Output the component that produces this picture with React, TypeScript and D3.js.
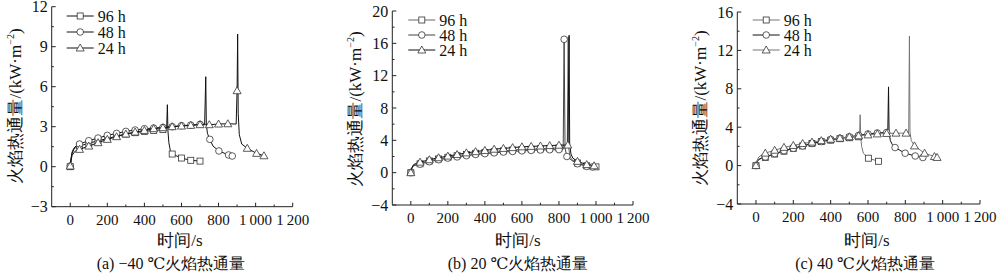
import React from "react";
import * as d3 from "d3";

type P = [number, number, number?];

// ---- Data (time s, heat flux kW/m², marker flag) ----
const seriesNames = ["96 h", "48 h", "24 h"];

const a96: P[] = [[0,0,1],[5,0.6],[10,1.0],[20,1.3],[30,1.45],[50,1.55,1],[100,1.75,1],[150,1.95,1],[200,2.1,1],[250,2.3,1],[300,2.45,1],[350,2.55,1],[400,2.65,1],[450,2.72,1],[500,2.78,1],[520,2.85],[524,4.65],[527,2.7],[532,1.8],[540,1.2],[550,0.95,1],[600,0.65,1],[650,0.48,1],[700,0.42,1]];
const a48: P[] = [[0,0.05,1],[5,0.7],[10,1.1],[20,1.4],[35,1.6],[50,1.7,1],[100,1.95,1],[150,2.15,1],[200,2.35,1],[250,2.5,1],[300,2.65,1],[350,2.75,1],[400,2.85,1],[450,2.9,1],[500,2.95,1],[550,3.0,1],[600,3.08,1],[650,3.12,1],[700,3.18,1],[725,3.2],[731,6.75],[734,3.2],[740,2.5],[753,2.05,1],[770,1.55],[802,1.18,1],[854,0.88,1],[874,0.8,1]];
const a24: P[] = [[0,0.05,1],[5,0.5],[10,0.85],[25,1.15],[50,1.3,1],[100,1.55,1],[150,1.8,1],[200,2.05,1],[250,2.25,1],[300,2.45,1],[350,2.6,1],[400,2.72,1],[450,2.85,1],[500,2.92,1],[550,3.0,1],[600,3.05,1],[650,3.1,1],[700,3.15,1],[750,3.15,1],[800,3.2,1],[850,3.22,1],[895,3.2],[900,5.7,1],[903,9.95],[906,4.0],[912,2.4],[925,1.7],[955,1.38,1],[1005,1.0,1],[1045,0.82,1]];

const b96: P[] = [[0,0,1],[5,0.5],[15,0.9],[30,1.0],[50,1.1,1],[100,1.45,1],[150,1.7,1],[200,1.9,1],[250,2.1,1],[300,2.25,1],[350,2.4,1],[400,2.5,1],[450,2.6,1],[500,2.7,1],[550,2.8,1],[600,2.85,1],[650,2.9,1],[700,2.95,1],[750,3.0,1],[800,3.05,1],[845,3.1],[850,16.8],[853,3.0],[860,2.0],[870,1.6],[900,1.2,1],[950,0.85,1],[1000,0.72,1]];
const b48: P[] = [[0,0,1],[5,0.5],[15,0.85],[30,0.95],[50,1.05,1],[100,1.35,1],[150,1.6,1],[200,1.8,1],[250,1.95,1],[300,2.1,1],[350,2.25,1],[400,2.35,1],[450,2.45,1],[500,2.55,1],[550,2.62,1],[600,2.7,1],[650,2.75,1],[700,2.8,1],[750,2.83,1],[800,2.85,1],[823,2.9],[828,16.5,1],[833,3.0],[843,2.0,1],[870,1.5],[900,1.1,1],[950,0.78,1],[980,0.7,1]];
const b24: P[] = [[0,0,1],[5,0.6],[15,1.0],[30,1.15],[50,1.3,1],[100,1.6,1],[150,1.85,1],[200,2.05,1],[250,2.25,1],[300,2.45,1],[350,2.6,1],[400,2.75,1],[450,2.9,1],[500,3.0,1],[550,3.1,1],[600,3.2,1],[650,3.25,1],[700,3.3,1],[750,3.35,1],[800,3.4,1],[848,3.42,1],[855,17.0],[858,3.5],[865,2.3],[875,1.8],[900,1.4,1],[950,1.0,1],[990,0.85,1]];

const c96: P[] = [[0,0,1],[5,0.35],[15,0.6],[30,0.75],[50,0.85,1],[100,1.2,1],[150,1.5,1],[200,1.8,1],[250,2.05,1],[300,2.3,1],[350,2.5,1],[400,2.65,1],[450,2.8,1],[500,2.9,1],[550,3.0,1],[555,3.05],[558,5.3],[561,3.0],[566,2.0],[575,1.3],[602,0.77,1],[656,0.45,1]];
const c48: P[] = [[0,0,1],[5,0.4],[15,0.65],[30,0.8],[50,0.9,1],[100,1.25,1],[150,1.55,1],[200,1.8,1],[250,2.05,1],[300,2.3,1],[350,2.5,1],[400,2.7,1],[450,2.85,1],[500,3.0,1],[550,3.15,1],[600,3.3,1],[650,3.4,1],[700,3.45,1],[706,3.4],[710,8.2],[713,3.4],[720,2.6],[730,2.2],[745,1.88,1],[799,1.29,1],[853,1.0,1],[894,0.84,1]];
const c24: P[] = [[0,0,1],[5,0.5],[15,0.9],[30,1.1],[50,1.3,1],[100,1.6,1],[150,1.9,1],[200,2.1,1],[250,2.3,1],[300,2.45,1],[350,2.6,1],[400,2.75,1],[450,2.85,1],[500,3.0,1],[550,3.1,1],[600,3.2,1],[650,3.3,1],[700,3.35,1],[750,3.38,1],[804,3.38,1],[818,3.4],[822,13.5],[825,3.5],[832,2.6],[849,2.05,1],[903,1.29,1],[956,0.94,1],[970,0.85,1]];

const xTicks = [0, 200, 400, 600, 800, 1000, 1200];
const xTickLabels = ["0", "200", "400", "600", "800", "1\u2009000", "1\u2009200"];
const yTicksA = [-3, 0, 3, 6, 9, 12];
const yTicksB = [-4, 0, 4, 8, 12, 16, 20];
const yTicksC = [-4, 0, 4, 8, 12, 16];
const captions = ["(a) −40 ℃火焰热通量", "(b) 20 ℃火焰热通量", "(c) 40 ℃火焰热通量"];
const xLabel = "时间/s";

const FONT = "Liberation Serif, Times New Roman, DejaVu Serif, serif";

interface PanelCfg {
  xr: [number, number];
  yr: [number, number];
  yd: [number, number];
  yTicks: number[];
  yStep: number;
  series: P[][];
  colors: string[];
  legend: { x: number; y: number; dy: number };
  caption: string;
  labelX: number;
  captionX: number;
  yLabelY: number;
}

const panels: PanelCfg[] = [
  { xr: [51.7, 292.7], yr: [206.7, 6.7], yd: [-3, 12], yTicks: yTicksA, yStep: 3, series: [a96, a48, a24], colors: ["#111", "#111", "#111"], legend: { x: 66.7, y: 16, dy: 16 }, caption: captions[0], labelX: 180, captionX: 171, yLabelY: 106 },
  { xr: [392.3, 633], yr: [205, 11], yd: [-4, 20], yTicks: yTicksB, yStep: 4, series: [b96, b48, b24], colors: ["#666", "#444", "#111"], legend: { x: 408.3, y: 20, dy: 15 }, caption: captions[1], labelX: 518, captionX: 518, yLabelY: 109 },
  { xr: [737.3, 980], yr: [204, 12], yd: [-4, 16], yTicks: yTicksC, yStep: 4, series: [c96, c48, c24], colors: ["#777", "#111", "#777"], legend: { x: 752.7, y: 20, dy: 15 }, caption: captions[2], labelX: 867, captionX: 865, yLabelY: 108 },
];

function Marker({ kind, x, y }: { kind: number; x: number; y: number }) {
  const st = { fill: "#fff", stroke: "#333", strokeWidth: 0.8 };
  if (kind === 0) return <rect x={x - 3} y={y - 3} width={6} height={6} {...st} />;
  if (kind === 1) return <circle cx={x} cy={y} r={3.3} {...st} />;
  return <path d={`M${x},${y - 4}L${x + 4},${y + 3}L${x - 4},${y + 3}Z`} {...st} />;
}

function Panel({ cfg }: { cfg: PanelCfg }) {
  const x = d3.scaleLinear().domain([-100, 1200]).range(cfg.xr);
  const y = d3.scaleLinear().domain(cfg.yd).range(cfg.yr);
  const x0 = cfg.xr[0];
  const yb = cfg.yr[0];
  const line = d3.line<P>().x((d) => x(d[0])).y((d) => y(d[1]));
  const xMinor = d3.range(100, 1200, 200);
  const yMinor = d3.range(cfg.yd[0] + cfg.yStep / 2, cfg.yd[1], cfg.yStep);
  return (
    <g style={{ fontFamily: FONT }}>
      {cfg.series.map((s, i) => (
        <g key={i}>
          <path d={line(s) || ""} fill="none" stroke={cfg.colors[i]} strokeWidth={1} />
          {s.filter((d) => d[2]).map((d, j) => (
            <Marker key={j} kind={i} x={x(d[0])} y={y(d[1])} />
          ))}
        </g>
      ))}
      <line x1={x0} x2={x(1200)} y1={yb} y2={yb} stroke="#222" strokeWidth={1} />
      <line x1={x0} x2={x0} y1={yb} y2={cfg.yr[1]} stroke="#222" strokeWidth={1} />
      {xTicks.map((t, i) => (
        <g key={"xt" + t}>
          <line x1={x(t)} x2={x(t)} y1={yb} y2={yb - 4} stroke="#222" />
          <text x={x(t)} y={yb + 18} fontSize={15} textAnchor="middle" fill="#111">{xTickLabels[i]}</text>
        </g>
      ))}
      {xMinor.map((t) => (
        <line key={"xm" + t} x1={x(t)} x2={x(t)} y1={yb} y2={yb - 2.2} stroke="#222" />
      ))}
      {cfg.yTicks.map((t) => (
        <g key={"yt" + t}>
          <line x1={x0} x2={x0 + 4} y1={y(t)} y2={y(t)} stroke="#222" />
          <text x={x0 - 4} y={y(t) + 5.5} fontSize={16} textAnchor="end" fill="#111">{t < 0 ? "−" + Math.abs(t) : String(t)}</text>
        </g>
      ))}
      {yMinor.map((t) => (
        <line key={"ym" + t} x1={x0} x2={x0 + 2.2} y1={y(t)} y2={y(t)} stroke="#222" />
      ))}
      <text transform={`translate(${x0 - 31},${cfg.yLabelY}) rotate(-90)`} fontSize={17} textAnchor="middle" fill="#111">
        火焰热通量/(kW·m<tspan fontSize={10} dy={-7}>−2</tspan><tspan dy={7}>)</tspan>
      </text>
      <text x={cfg.labelX} y={246} fontSize={17} textAnchor="middle" fill="#111">{xLabel}</text>
      <text x={cfg.captionX} y={269} fontSize={16} textAnchor="middle" fill="#111">{cfg.caption}</text>
      {seriesNames.map((n, i) => {
        const ly = cfg.legend.y + i * cfg.legend.dy;
        const lx = cfg.legend.x;
        return (
          <g key={n}>
            <line x1={lx} x2={lx + 27} y1={ly} y2={ly} stroke={cfg.colors[i]} strokeWidth={1} />
            <Marker kind={i} x={lx + 13.5} y={ly} />
            <text x={lx + 31} y={ly + 5.5} fontSize={16} fill="#111">{n}</text>
          </g>
        );
      })}
    </g>
  );
}

export default function App() {
  return (
    <svg width={1000} height={273} style={{ position: "absolute", left: 0, top: 0, background: "#fff" }}>
      <rect width={1000} height={273} fill="#fff" />
      {panels.map((p, i) => (
        <Panel key={i} cfg={p} />
      ))}
    </svg>
  );
}
